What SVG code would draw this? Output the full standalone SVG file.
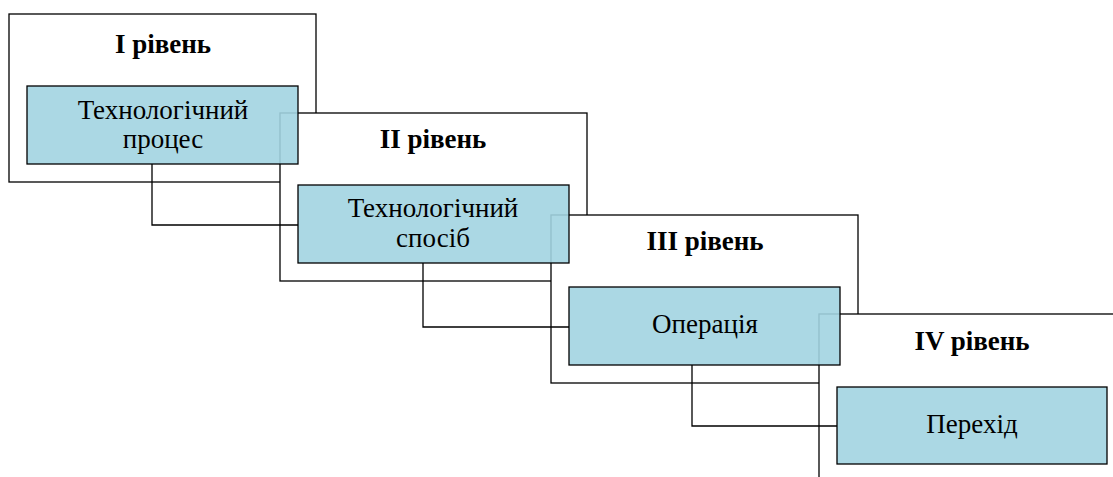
<svg xmlns="http://www.w3.org/2000/svg" width="1113" height="477" viewBox="0 0 1113 477">
<style>
.frame{fill:#fff;stroke:#000;stroke-width:1.3}
.box{fill:#a2d4e1;fill-opacity:0.9;stroke:#000;stroke-width:1.3}
.title{font-family:"Liberation Serif","Times New Roman","DejaVu Serif",serif;font-weight:bold;font-size:27px;text-anchor:middle;fill:#000}
.lbl{font-family:"Liberation Serif","Times New Roman","DejaVu Serif",serif;font-size:27px;text-anchor:middle;fill:#000}
.conn{fill:none;stroke:#000;stroke-width:1.3}
</style>
<rect width="1113" height="477" fill="#fff"/>
<g id="level1">
<rect class="frame" x="9" y="14" width="307" height="168"/>
<text class="title" x="163" y="53">І рівень</text>
</g>
<g id="level2">
<rect class="frame" x="280" y="113" width="307" height="168"/>
<text class="title" x="433" y="148">ІІ рівень</text>
</g>
<g id="level3">
<rect class="frame" x="551" y="215" width="307" height="168"/>
<text class="title" x="705" y="250">ІІІ рівень</text>
</g>
<g id="level4">
<rect class="frame" x="819" y="314" width="310" height="180"/>
<text class="title" x="972" y="350">ІV рівень</text>
</g>
<g id="connectors">
<polyline class="conn" points="152,164 152,225 298,225"/>
<polyline class="conn" points="423,263 423,327 569,327"/>
<polyline class="conn" points="692,365 692,426 837,426"/>
</g>
<g id="node1">
<rect class="box" x="27" y="86" width="271" height="78"/>
<text class="lbl" x="163" y="119">Технологічний</text>
<text class="lbl" x="163" y="148">процес</text>
</g>
<g id="node2">
<rect class="box" x="298" y="185" width="271" height="78"/>
<text class="lbl" x="433" y="217">Технологічний</text>
<text class="lbl" x="433" y="247">спосіб</text>
</g>
<g id="node3">
<rect class="box" x="569" y="287" width="271" height="78"/>
<text class="lbl" x="705" y="333">Операція</text>
</g>
<g id="node4">
<rect class="box" x="837" y="387" width="270" height="77"/>
<text class="lbl" x="972" y="433">Перехід</text>
</g>
</svg>
